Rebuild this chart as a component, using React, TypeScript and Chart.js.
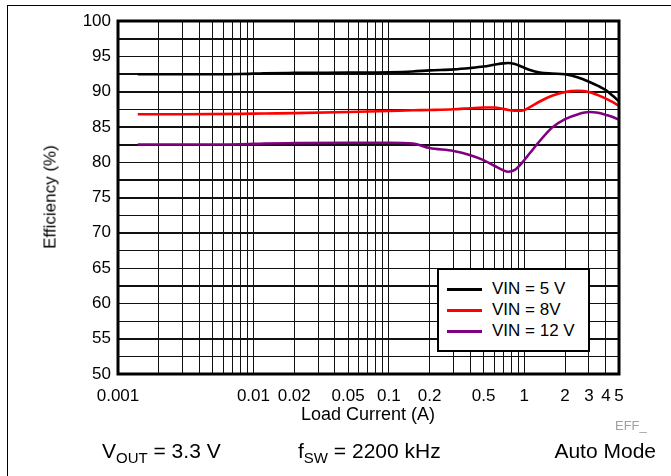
import React, { useEffect, useRef } from 'react';
import { Chart, registerables } from 'chart.js';

Chart.register(...registerables);

const FONT = '"Liberation Sans", Arial, Helvetica, sans-serif';

// Load current (A)
const loadCurrent = [0.0014, 0.003, 0.008, 0.012, 0.02, 0.05, 0.1, 0.15, 0.2, 0.3, 0.4, 0.5, 0.6, 0.7, 0.76, 0.85, 0.95, 1.1, 1.3, 1.6, 2, 2.5, 3, 3.5, 4, 4.5, 5];
// Efficiency (%)
const effVin5 = [92.45, 92.45, 92.5, 92.6, 92.65, 92.7, 92.75, 92.85, 93.0, 93.15, 93.35, 93.55, 93.8, 94.0, 94.05, 93.9, 93.55, 93.05, 92.7, 92.55, 92.45, 92.0, 91.4, 90.8, 90.2, 89.4, 88.6];
const effVin8 = [86.8, 86.8, 86.85, 86.9, 86.95, 87.1, 87.25, 87.35, 87.4, 87.5, 87.65, 87.75, 87.75, 87.55, 87.4, 87.3, 87.3, 87.8, 88.6, 89.4, 89.95, 90.1, 89.95, 89.5, 89.0, 88.5, 88.0];
const effVin12 = [82.5, 82.5, 82.55, 82.65, 82.7, 82.75, 82.75, 82.65, 82.0, 81.6, 81.0, 80.3, 79.5, 78.85, 78.65, 78.9, 79.8, 81.3, 83.0, 84.9, 86.1, 86.8, 87.1, 87.0, 86.7, 86.4, 86.0];

const seriesLabels = ['VIN = 5 V', 'VIN = 8V', 'VIN = 12 V'];
const seriesColors = ['#000000', '#ff0000', '#800080'];

const xTickLabels = [0.001, 0.01, 0.02, 0.05, 0.1, 0.2, 0.5, 1, 2, 3, 4, 5];
const xMin = 0.001;
const xMax = 5;
const yMin = 50;
const yMax = 100;
const yGridStep = 2.5;
const yLabelStep = 5;

function buildXGrid(): number[] {
  const out: number[] = [];
  for (let d = xMin; d < xMax * 1.0001; d *= 10) {
    for (let m = 1; m <= 9; m++) {
      const v = parseFloat((m * d).toPrecision(6));
      if (v <= xMax * 1.0001) out.push(v);
    }
  }
  return out;
}

function buildYGrid(): number[] {
  const out: number[] = [];
  for (let v = yMin; v <= yMax + 1e-9; v += yGridStep) out.push(v);
  return out;
}

export default function App() {
  const ref = useRef<HTMLCanvasElement | null>(null);

  useEffect(() => {
    if (!ref.current) return;
    const hGrid = {
      id: 'hGrid',
      beforeDatasetsDraw(chart: any) {
        const { ctx, chartArea } = chart;
        const ys = chart.scales.y;
        ctx.save();
        ctx.strokeStyle = '#111';
        ctx.lineWidth = 1;
        buildYGrid().forEach((v) => {
          const p = Math.round(ys.getPixelForValue(v)) + 0.5;
          ctx.beginPath();
          ctx.moveTo(chartArea.left, p);
          ctx.lineTo(chartArea.right, p);
          ctx.stroke();
        });
        ctx.restore();
      },
    };
    const frame = {
      id: 'plotFrame',
      afterDatasetsDraw(chart: any) {
        const { ctx, chartArea } = chart;
        const { left, top, right, bottom } = chartArea;
        ctx.save();
        ctx.lineWidth = 3;
        ctx.strokeStyle = '#000';
        ctx.strokeRect(left, top, right - left, bottom - top);
        ctx.restore();
      },
    };
    const series = [effVin5, effVin8, effVin12];
    const chart = new Chart(ref.current, {
      type: 'line',
      data: {
        datasets: series.map((vals, i) => ({
          label: seriesLabels[i],
          data: loadCurrent.map((x, j) => ({ x, y: vals[j] })),
          borderColor: seriesColors[i],
          backgroundColor: seriesColors[i],
          borderWidth: 2.6,
          pointRadius: 0,
          cubicInterpolationMode: 'monotone' as const,
          fill: false,
        })),
      },
      options: {
        animation: false,
        responsive: false,
        maintainAspectRatio: false,
        layout: { padding: { top: 21, right: 52, left: 0, bottom: 0 } },
        plugins: { legend: { display: false }, tooltip: { enabled: false } },
        scales: {
          x: {
            type: 'logarithmic',
            min: xMin,
            max: xMax,
            afterBuildTicks: (s: any) => {
              s.ticks = buildXGrid().map((v) => ({ value: v }));
            },
            afterFit: (s: any) => {
              s.height = 102;
            },
            ticks: {
              autoSkip: false,
              maxRotation: 0,
              minRotation: 0,
              padding: 12,
              color: '#000',
              font: { family: FONT, size: 17 },
              callback: (v: any) => {
                const n = Number(v);
                const t = xTickLabels.find((l) => Math.abs(l - n) / l < 1e-6);
                return t === undefined ? '' : String(t);
              },
            },
            grid: { display: true, drawOnChartArea: true, color: '#111', lineWidth: 1, drawTicks: false },
            border: { display: false },
          },
          y: {
            type: 'linear',
            min: yMin,
            max: yMax,
            afterFit: (s: any) => {
              s.width = 118;
            },
            ticks: {
              stepSize: yGridStep,
              autoSkip: false,
              padding: 7,
              color: '#000',
              font: { family: FONT, size: 17 },
              callback: (v: any) => (Number(v) % yLabelStep === 0 ? String(v) : ''),
            },
            grid: { display: true, drawOnChartArea: true, color: '#111', lineWidth: 1, drawTicks: false },
            border: { display: false },
          },
        },
      },
      plugins: [hGrid, frame],
    } as any);
    return () => chart.destroy();
  }, []);

  const legendRowTop = [280, 301, 322];

  return (
    <div style={{ position: 'absolute', left: 0, top: 0, width: 671, height: 476, background: '#fff', fontFamily: FONT, color: '#000', overflow: 'hidden' }}>
      <div style={{ position: 'absolute', left: 7, top: 5, width: 700, height: 500, borderTop: '1px solid #000', borderLeft: '1px solid #000' }} />
      <canvas ref={ref} width={671} height={476} style={{ position: 'absolute', left: 0, top: 0, width: 671, height: 476 }} />
      {/* Legend */}
      <div style={{ position: 'absolute', left: 437, top: 268, width: 149, height: 80, border: '2px solid #000', background: '#fff' }} />
      {seriesLabels.map((lab, i) => (
        <React.Fragment key={lab}>
          <div style={{ position: 'absolute', left: 447, top: legendRowTop[i] + 8, width: 35, height: 3, background: seriesColors[i] }} />
          <div style={{ position: 'absolute', left: 492, top: legendRowTop[i], fontSize: 17, lineHeight: '17px', whiteSpace: 'nowrap' }}>{lab}</div>
        </React.Fragment>
      ))}
      {/* Y axis title */}
      <div style={{ position: 'absolute', left: 50, top: 197, transform: 'translate(-50%, -50%) rotate(-90deg)', fontSize: 17, lineHeight: '17px', whiteSpace: 'nowrap' }}>Efficiency (%)</div>
      {/* X axis title */}
      <div style={{ position: 'absolute', left: 368, top: 405, transform: 'translateX(-50%)', fontSize: 18, lineHeight: '18px', whiteSpace: 'nowrap' }}>Load Current (A)</div>
      <div style={{ position: 'absolute', left: 615, top: 419, fontSize: 13, lineHeight: '13px', color: '#a0a0a0', whiteSpace: 'nowrap' }}>EFF_</div>
      {/* Bottom notes */}
      <div style={{ position: 'absolute', left: 102, top: 440, fontSize: 21, lineHeight: '21px', whiteSpace: 'nowrap' }}>
        V<span style={{ fontSize: 15, position: 'relative', top: 5 }}>OUT</span> = 3.3 V
      </div>
      <div style={{ position: 'absolute', left: 298, top: 440, fontSize: 21, lineHeight: '21px', whiteSpace: 'nowrap' }}>
        f<span style={{ fontSize: 15, position: 'relative', top: 5 }}>SW</span> = 2200 kHz
      </div>
      <div style={{ position: 'absolute', right: 671 - 656, top: 440, fontSize: 21, lineHeight: '21px', whiteSpace: 'nowrap' }}>Auto Mode</div>
    </div>
  );
}
